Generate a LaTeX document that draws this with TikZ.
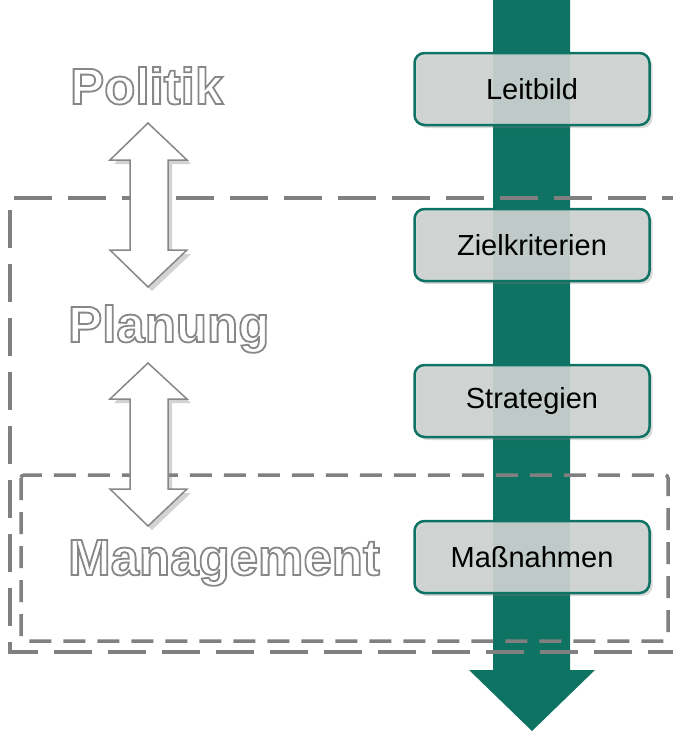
\documentclass[tikz,border=0pt]{standalone}
\usepackage{fontspec}
\setmainfont{Liberation Sans}
\usetikzlibrary{shadows}
\definecolor{flow}{RGB}{14,115,98}
\definecolor{boxfill}{RGB}{207,212,211}
\definecolor{frame}{RGB}{128,128,128}
\definecolor{outl}{RGB}{135,135,135}
% hollow lettering: white fill with a grey stroke (text render mode 2)
\newcommand\hollowtext[1]{%
  \special{pdf:literal direct q 2 Tr 1.8 w 0.53 0.53 0.53 RG 1 1 1 rg}%
  #1%
  \special{pdf:literal direct Q}}
\begin{document}
\begin{tikzpicture}[x=1pt,y=-1pt,
  stage/.style={draw=flow, line width=2.5pt, fill=boxfill, fill opacity=0.9,
    text opacity=1, rounded corners=10pt, minimum width=235pt, minimum height=72pt,
    font=\fontsize{29}{31}\selectfont,
    drop shadow={opacity=0.3, shadow xshift=3pt, shadow yshift=-3pt}},
  level/.style={anchor=base west, inner sep=0pt, font=\fontsize{51}{53}\selectfont\bfseries},
  outerframe/.style={draw=frame, line width=4pt, dash pattern=on 38pt off 16pt},
  innerframe/.style={draw=frame, line width=3.5pt, dash pattern=on 22pt off 12pt, rounded corners=3pt},
  updown/.style={fill=white, draw=outl, line width=1.5pt, line join=miter,
    drop shadow={opacity=0.35, shadow xshift=4pt, shadow yshift=-4pt}}]
\useasboundingbox (0,0) rectangle (673,732);
\clip (0,0) rectangle (673,732);

% main downward flow arrow
\fill[flow] (493,-10) -- (570,-10) -- (570,670) -- (595,670) -- (532,731)
  -- (469,670) -- (493,670) -- cycle;

% dashed frames
\draw[outerframe] (700,198) -- (10,198) -- (10,652) -- (700,652);
\draw[innerframe] (21,475) rectangle (668,641);

% stages along the flow
\node[stage] (leitbild) at (532,89) {Leitbild};
\node[stage] (ziel) at (532,245) {Zielkriterien};
\node[stage] (strat) at (532,401) {Strategien};
\node[stage] (mass) at (532,557) {Maßnahmen};

% two-way arrows between the levels
\draw[updown] (148,123) -- (187,160) -- (168,160) -- (168,250) -- (187,250)
  -- (148,287) -- (110,250) -- (130,250) -- (130,160) -- (110,160) -- cycle;
\draw[updown] (148,363) -- (187,399) -- (168,399) -- (168,489) -- (187,489)
  -- (148,526) -- (110,489) -- (130,489) -- (130,399) -- (110,399) -- cycle;

% level labels
\node[level] (politik) at (70,104) {\hollowtext{Politik}};
\node[level] (planung) at (68,342) {\hollowtext{Planung}};
\node[level] (management) at (68,575) {\hollowtext{Management}};
\end{tikzpicture}
\end{document}
